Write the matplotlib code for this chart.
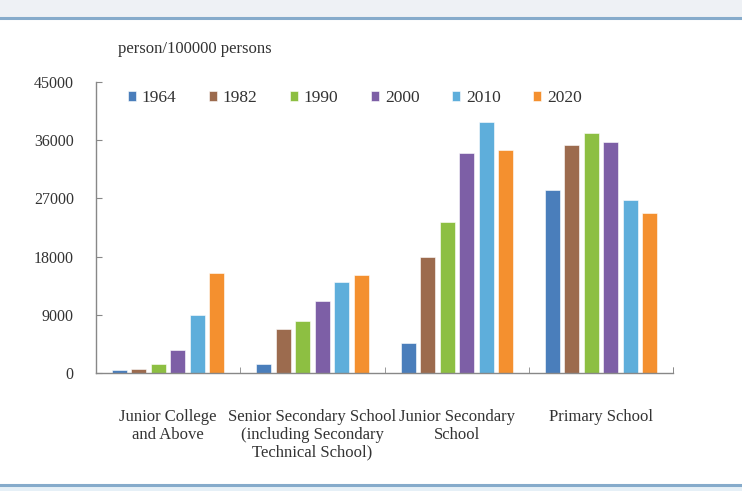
import numpy as np
import matplotlib.pyplot as plt
from matplotlib.lines import Line2D
from matplotlib.patches import Rectangle

plt.rcParams["font.family"] = ["Liberation Serif", "DejaVu Serif"]

categories = [
    "Junior College\nand Above",
    "Senior Secondary School\n(including Secondary\nTechnical School)",
    "Junior Secondary\nSchool",
    "Primary School",
]
years = ["1964", "1982", "1990", "2000", "2010", "2020"]
colors = ["#4a7ebb", "#9c6b4e", "#8dbf42", "#7d5fa6", "#5eaedb", "#f4902f"]

# persons per 100000 persons, one list per census year
v1964 = [416, 1319, 4680, 28330]
v1982 = [615, 6779, 17892, 35237]
v1990 = [1422, 8039, 23344, 37057]
v2000 = [3611, 11146, 33961, 35701]
v2010 = [8930, 14032, 38788, 26779]
v2020 = [15467, 15088, 34507, 24767]
series = [v1964, v1982, v1990, v2000, v2010, v2020]

fig = plt.figure(figsize=(7.42, 4.91), dpi=100)
fig.patch.set_facecolor("white")

# page decoration: grey header strip and blue rules
fig.add_artist(Rectangle((0, 0.965), 1, 0.035, transform=fig.transFigure,
                         facecolor="#eef1f5", edgecolor="none"))
fig.add_artist(Line2D([0, 1], [0.963, 0.963], transform=fig.transFigure,
                      color="#86abcb", linewidth=2.2))
fig.add_artist(Line2D([0, 1], [0.012, 0.012], transform=fig.transFigure,
                      color="#86abcb", linewidth=2.2))
fig.add_artist(Rectangle((0, 0), 1, 0.009, transform=fig.transFigure,
                         facecolor="#e6f0f7", edgecolor="none"))

ax = fig.add_axes([0.1294, 0.2403, 0.778, 0.5927])

x = np.arange(len(categories))
step = 0.135
width = 0.104
for i, (vals, year, col) in enumerate(zip(series, years, colors)):
    ax.bar(x + (i - 2.5) * step, vals, width, color=col, label=year,
           edgecolor="white", linewidth=0.4)

ax.set_xlim(-0.5, len(categories) - 0.5)
ax.set_ylim(0, 45000)
ax.set_yticks(np.arange(0, 45001, 9000))
ax.tick_params(axis="y", direction="in", length=4, labelsize=11.5, pad=16,
               color="#888888", labelcolor="#333333")

ax.set_xticks(x)
ax.set_xticklabels(categories, fontsize=12, color="#333333", linespacing=1.12)
ax.tick_params(axis="x", length=0, pad=26)
ax.set_xticks(list(np.arange(0.5, len(categories))) + [len(categories) - 0.5], minor=True)
ax.tick_params(axis="x", which="minor", direction="in", length=4, color="#888888")

for side in ["top", "right"]:
    ax.spines[side].set_visible(False)
for side in ["left", "bottom"]:
    ax.spines[side].set_color("#888888")
    ax.spines[side].set_linewidth(1.0)

ax.legend(loc="upper left", bbox_to_anchor=(0.028, 1.025), ncol=6, frameon=False,
          fontsize=12.5, handlelength=0.45, handleheight=0.45, handletextpad=0.35,
          columnspacing=1.87, labelcolor="#333333")

fig.text(0.159, 0.892, "person/100000 persons", fontsize=12, color="#333333")

fig.savefig("out.png", dpi=100)
